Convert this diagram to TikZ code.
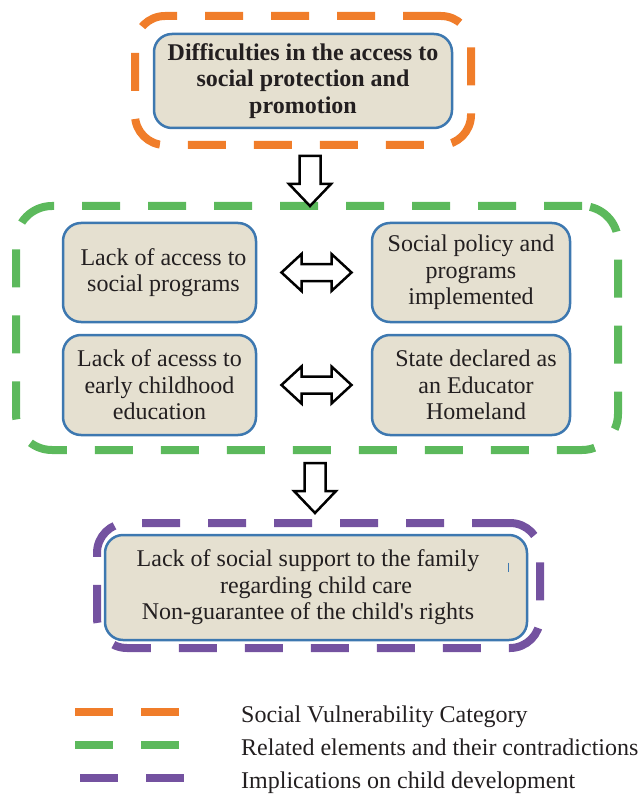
\documentclass[tikz,border=0pt]{standalone}
\usepackage{fontspec}
\setmainfont{Liberation Serif}
\usetikzlibrary{calc}
\definecolor{frameorange}{RGB}{240,125,42}
\definecolor{framegreen}{RGB}{92,185,92}
\definecolor{framepurple}{RGB}{116,82,160}
\definecolor{boxblue}{RGB}{61,120,176}
\definecolor{boxfill}{RGB}{229,224,208}
\definecolor{inkgray}{RGB}{35,31,32}
\tikzset{
	dashframe/.style={line width=8pt, dash pattern=on 38pt off 28pt, rounded corners=30pt, inner sep=0pt},
	catbox/.style={draw=boxblue, line width=2.5pt, fill=boxfill, rounded corners=18pt, align=center, inner sep=0pt, text=inkgray},
	hollow/.style={draw=black, line width=2.5pt, fill=white, line join=miter},
	legdash/.style={line width=8pt, dash pattern=on 38pt off 28pt},
	legtext/.style={anchor=base west, inner sep=0pt, text=inkgray}
}
\begin{document}
\begin{tikzpicture}[x=1pt, y=-1pt, font=\fontsize{24}{26.5}\selectfont]
	\useasboundingbox (0,0) rectangle (638,794);
	% dashed frames
	\node[dashframe, draw=frameorange, minimum width=336pt, minimum height=129pt] (vuln) at (303,80.5) {};
	\node[dashframe, draw=framegreen, minimum width=602pt, minimum height=244pt, rounded corners=36pt] (relations) at (317,328) {};
	\node[dashframe, draw=framepurple, minimum width=443pt, minimum height=125pt] (implic) at (318.5,585.5) {};
	% boxes
	\node[catbox, minimum width=298pt, minimum height=94pt, font=\fontsize{24}{26.5}\selectfont\bfseries] (access) at (303,81) {Difficulties in the access to\\social protection and\\promotion};
	\node[catbox, minimum width=193pt, minimum height=99pt] (lackprog) at (159.5,272.5) {\hspace*{8pt}Lack of access to\\\hspace*{8pt}social programs};
	\node[catbox, minimum width=198pt, minimum height=99pt] (policy) at (471,272.5) {Social policy and\\programs\\implemented};
	\node[catbox, minimum width=193pt, minimum height=100pt] (lackedu) at (159.5,385) {Lack of acesss to\\early childhood\\education};
	\node[catbox, minimum width=198pt, minimum height=100pt] (homeland) at (471,385) {\hspace*{10pt}State declared as\\\hspace*{10pt}an Educator\\\hspace*{10pt}Homeland};
	\node[catbox, minimum width=422pt, minimum height=105pt] (family) at (316,587.5) {Lack of social support to the family\hspace*{16pt}\\regarding child care\hspace*{16pt}\\Non-guarantee of the child\textquotesingle s rights\hspace*{16pt}};
	\draw[boxblue, line width=1.2pt] ($(family.east)+(-20,-25)$) -- ++(0,9);
	% hollow arrows
	\coordinate (dn1) at (310,156);
	\coordinate (dn2) at (315,463);
	\draw[hollow] (dn1) ++(-10.5,0) -- ++(21,0) -- ++(0,28) -- ++(10.5,0) -- ++(-21,22) -- ++(-21,-22) -- ++(10.5,0) -- cycle;
	\draw[hollow] (dn2) ++(-10.5,0) -- ++(21,0) -- ++(0,28) -- ++(10.5,0) -- ++(-21,22) -- ++(-21,-22) -- ++(10.5,0) -- cycle;
	\coordinate (dbl1) at ($(lackprog.east)!0.5!(policy.west)+(2.5,0)$);
	\coordinate (dbl2) at ($(lackedu.east)!0.5!(homeland.west)+(2.5,0)$);
	\draw[hollow] (dbl1) ++(-35,0) -- ++(20,-18.5) -- ++(0,10) -- ++(30,0) -- ++(0,-10) -- ++(20,18.5) -- ++(-20,18.5) -- ++(0,-10) -- ++(-30,0) -- ++(0,10) -- cycle;
	\draw[hollow] (dbl2) ++(-35,0) -- ++(20,-18.5) -- ++(0,10) -- ++(30,0) -- ++(0,-10) -- ++(20,18.5) -- ++(-20,18.5) -- ++(0,-10) -- ++(-30,0) -- ++(0,10) -- cycle;
	% legend
	\draw[legdash, frameorange] (75,712) -- (180,712);
	\draw[legdash, framegreen] (75,745) -- (180,745);
	\draw[legdash, framepurple] (80,778) -- (185,778);
	\node[legtext] (legvuln) at (241,722) {Social Vulnerability Category};
	\node[legtext] (legrel) at (241,755) {Related elements and their contradictions};
	\node[legtext] (legimp) at (241,788) {Implications on child development};
\end{tikzpicture}
\end{document}
